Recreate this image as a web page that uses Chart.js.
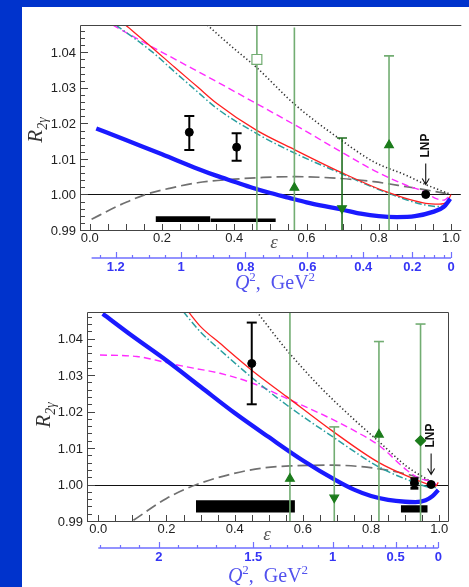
<!DOCTYPE html>
<html>
<head>
<meta charset="utf-8">
<script src="https://cdn.jsdelivr.net/npm/chart.js@4.4.1/dist/chart.umd.min.js"></script>
<style>
  html, body { margin: 0; padding: 0; }
  body { width: 469px; height: 587px; background: #0033cc; position: relative; overflow: hidden; }
  #sheet { position: absolute; left: 22px; top: 7px; width: 447px; height: 580px; background: #fff; }
  #c1 { position: absolute; left: 0; top: 0; }
  #c2 { position: absolute; left: 0; top: 291px; }
</style>
</head>
<body>
<div id="sheet">
  <canvas id="c1" width="447" height="291"></canvas>
  <canvas id="c2" width="447" height="289"></canvas>
</div>
<script>
// ---- tick labels ----
const yTicks = [0.99, 1.00, 1.01, 1.02, 1.03, 1.04];
const epsTicks = [0.0, 0.2, 0.4, 0.6, 0.8, 1.0];

// ---- top panel: curves (epsilon -> R2gamma) ----
const topBlueEps = [0.018, 0.1, 0.2, 0.3, 0.35, 0.4, 0.45, 0.5, 0.55, 0.6, 0.65, 0.7, 0.75, 0.8, 0.85, 0.9, 0.95, 0.98, 0.998];
const topBlueR   = [1.0186, 1.0153, 1.0113, 1.0072, 1.0053, 1.0036, 1.0019, 1.0004, 0.9991, 0.9978, 0.9967, 0.9957, 0.9946, 0.9939, 0.99365, 0.9939, 0.9951, 0.9965, 0.9988];
const topRedEps  = [0.099, 0.172, 0.235, 0.298, 0.352, 0.461, 0.569, 0.696, 0.822, 0.93, 0.967, 0.989, 1.0];
const topRedR    = [1.0477, 1.0414, 1.0358, 1.0303, 1.0256, 1.0181, 1.0125, 1.0062, 1.0007, 0.9975, 0.9973, 0.9979, 1.0];
const topTealEps = [0.072, 0.172, 0.235, 0.298, 0.352, 0.461, 0.569, 0.696, 0.822, 0.93, 0.967, 0.99];
const topTealR   = [1.0477, 1.0402, 1.0345, 1.0289, 1.0242, 1.0172, 1.01155, 1.0059, 1.0005, 0.9970, 0.9966, 0.9972];
const topMagEps  = [0.063, 0.15, 0.25, 0.352, 0.461, 0.569, 0.696, 0.786, 0.876, 0.93, 0.957, 0.98, 0.998];
const topMagR    = [1.0477, 1.0428, 1.0373, 1.0317, 1.0256, 1.0195, 1.0120, 1.0068, 1.0026, 1.0006, 0.9989, 0.9984, 0.9998];
const topDotEps  = [0.325, 0.40, 0.461, 0.569, 0.696, 0.786, 0.876, 0.93, 1.0];
const topDotR    = [1.0477, 1.0410, 1.0358, 1.0252, 1.0153, 1.0092, 1.0054, 1.0028, 1.0];
const topGrayEps = [0.005, 0.072, 0.108, 0.154, 0.22, 0.298, 0.40, 0.48, 0.569, 0.696, 0.786, 0.876, 0.93, 1.0];
const topGrayR   = [0.9930, 0.9965, 0.9981, 1.0000, 1.0017, 1.0033, 1.0043, 1.0048, 1.0050, 1.0045, 1.0036, 1.0022, 1.0013, 1.0];

// ---- top panel: data points ----
const topBlackEps = [0.2755, 0.4065];
const topBlackR   = [1.0175, 1.0133];
const topBlackLo  = [1.0125, 1.0095];
const topBlackHi  = [1.0221, 1.0172];
const topLnpEps = [0.930];
const topLnpR   = [1.000];
const topGreenEps = [0.4626, 0.5664, 0.6983, 0.8284];
const topGreenR   = [1.0380, 1.0019, 0.9961, 1.0139];
const topGreenHi  = [1.0600, 1.0470, 1.0159, 1.0390];   // 1.06 = runs off the top
const topGreenLo  = [0.9800, 0.9800, 0.9800, 0.9800];   // all run off the bottom
const topBandEps = [[0.182, 0.334], [0.334, 0.515]];
const topBandLo  = [0.99228, 0.99228];
const topBandHi  = [0.99389, 0.99324];

// ---- top panel: Q^2 axis (tick label -> epsilon position) ----
const q2TopLabels  = ['1.2', '1', '0.8', '0.6', '0.4', '0.2', '0'];
const q2TopAt      = [0.072, 0.253, 0.431, 0.6025, 0.757, 0.893, 1.0];
const q2TopMinorAt = [0.027, 0.117, 0.163, 0.208, 0.295, 0.340, 0.386, 0.479, 0.523, 0.560, 0.646, 0.682, 0.723, 0.795, 0.831, 0.863, 0.926, 0.953, 0.980];

// ---- bottom panel: curves ----
const botBlueEps = [0.013, 0.1, 0.2, 0.3, 0.4, 0.5, 0.6, 0.7, 0.75, 0.8, 0.85, 0.9, 0.93, 0.96, 0.98, 0.997];
const botBlueR   = [1.0468, 1.0407, 1.0340, 1.0268, 1.0196, 1.0130, 1.0066, 1.0010, 0.9986, 0.99685, 0.9958, 0.99528, 0.9952, 0.9957, 0.9968, 0.9985];
const botRedEps  = [0.264, 0.30, 0.357, 0.4545, 0.5525, 0.689, 0.823, 0.927, 0.97, 0.99, 0.997];
const botRedR    = [1.0474, 1.0433, 1.0387, 1.0310, 1.0241, 1.0145, 1.0060, 1.0015, 1.0000, 0.9996, 1.0006];
const botTealEps = [0.249, 0.30, 0.357, 0.4545, 0.5525, 0.689, 0.823, 0.927, 0.97, 0.99];
const botTealR   = [1.0474, 1.0418, 1.0369, 1.0290, 1.0218, 1.0130, 1.0048, 1.0006, 0.9993, 0.9992];
const botMagEps  = [0.005, 0.113, 0.21, 0.279, 0.357, 0.4545, 0.5525, 0.65, 0.748, 0.826, 0.904, 0.943, 0.982, 0.992];
const botMagR    = [1.0355, 1.0351, 1.0332, 1.0319, 1.0305, 1.0277, 1.0236, 1.0195, 1.0149, 1.0105, 1.0040, 1.0016, 1.0007, 0.9998];
const botDotEps  = [0.4645, 0.5525, 0.65, 0.748, 0.826, 0.904, 0.963, 0.992];
const botDotR    = [1.0474, 1.0369, 1.0268, 1.0180, 1.0115, 1.0050, 1.0015, 1.0000];
const botGrayEps = [0.103, 0.2, 0.2885, 0.396, 0.48, 0.562, 0.689, 0.816, 0.914, 0.992];
const botGrayR   = [0.9902, 0.9962, 1.0000, 1.0030, 1.0045, 1.0051, 1.0053, 1.0044, 1.0026, 1.0003];

// ---- bottom panel: data points ----
const botBlackEps = [0.450, 0.927];
const botBlackR   = [1.0332, 1.0004];
const botBlackLo  = [1.0220, 0.9990];
const botBlackHi  = [1.0444, 1.0016];
const botLnpEps = [0.976];
const botLnpR   = [1.000];
const botGreenEps = [0.562, 0.692, 0.823, 0.945];
const botGreenR   = [1.0016, 0.9964, 1.0137, 1.0120];
const botGreenHi  = [1.0470, 1.0158, 1.0392, 1.0440];
const botGreenLo  = [0.9800, 0.9800, 0.9800, 0.9800];
const botBandEps = [[0.2865, 0.5765], [0.887, 0.966]];
const botBandLo  = [0.99231, 0.99231];
const botBandHi  = [0.99569, 0.99431];

// ---- bottom panel: Q^2 axis ----
const q2BotLabels  = ['2', '1.5', '1', '0.5', '0'];
const q2BotAt      = [0.178, 0.4545, 0.687, 0.872, 0.997];
const q2BotMinorAt = [0.004, 0.063, 0.118, 0.234, 0.290, 0.346, 0.400, 0.503, 0.552, 0.596, 0.645, 0.733, 0.772, 0.806, 0.841, 0.904, 0.934, 0.958, 0.982];

const SANS = '"Liberation Sans", Arial, sans-serif';
const SERIF = '"Liberation Serif", "Times New Roman", serif';
const GREEN_LINE = '#72ad72';
const GREEN_MARK = '#1c7c1c';

function pts(xs, ys) { return xs.map((v, i) => ({ x: v, y: ys[i] })); }

function curve(xs, ys, color, width, dash, order) {
  return {
    data: pts(xs, ys), showLine: true, borderColor: color, borderWidth: width,
    borderDash: dash || [], pointRadius: 0, cubicInterpolationMode: 'monotone',
    fill: false, order: order, clip: 0
  };
}

function errBar(xv, lo, hi, color, width, capLo, capHi, cap, order) {
  return {
    data: [{ x: xv, y: lo }, { x: xv, y: hi }], showLine: true,
    borderColor: color, borderWidth: width, pointStyle: 'line',
    pointRadius: [capLo ? cap : 0, capHi ? cap : 0],
    pointBorderColor: color, pointBorderWidth: width, order: order, clip: 0
  };
}

function bands(ranges, lo, hi) {
  const out = [];
  ranges.forEach((r, i) => {
    out.push({ data: [{ x: r[0], y: hi[i] }, { x: r[1], y: hi[i] }], showLine: true, fill: '+1',
      backgroundColor: '#000', borderColor: 'rgba(0,0,0,0)', borderWidth: 0, pointRadius: 0, order: 9, clip: 0 });
    out.push({ data: [{ x: r[0], y: lo[i] }, { x: r[1], y: lo[i] }], showLine: true, fill: false,
      borderColor: 'rgba(0,0,0,0)', borderWidth: 0, pointRadius: 0, order: 9, clip: 0 });
  });
  return out;
}

// axes, frame, Q^2 scale, titles and the LNP arrow
const paperAxes = {
  id: 'paperAxes',
  beforeDatasetsDraw(chart) {
    const { ctx, chartArea: a, scales: { y } } = chart;
    const py = Math.round(y.getPixelForValue(1.0)) + 0.5;
    ctx.save();
    ctx.strokeStyle = '#111'; ctx.lineWidth = 1;
    ctx.beginPath(); ctx.moveTo(a.left, py); ctx.lineTo(a.right, py); ctx.stroke();
    ctx.restore();
  },
  afterDatasetsDraw(chart, args, o) {
    const { ctx, chartArea: a, scales: { x, y } } = chart;
    ctx.save();
    // frame
    ctx.strokeStyle = '#444'; ctx.lineWidth = 1;
    ctx.beginPath();
    ctx.moveTo(a.right + 0.5, a.top + 0.5);
    ctx.lineTo(a.left + 0.5, a.top + 0.5);
    ctx.lineTo(a.left + 0.5, a.bottom + 0.5);
    ctx.lineTo(a.right + 0.5, a.bottom + 0.5);
    if (o.rightFrame) ctx.lineTo(a.right + 0.5, a.top + 0.5);
    ctx.stroke();
    // inner y ticks
    ctx.beginPath();
    for (let i = 0; i <= 29; i++) {
      const v = 0.99 + i * 0.002;
      if (v > y.max) break;
      const py = Math.round(y.getPixelForValue(v)) + 0.5;
      const len = i % 5 === 0 ? 8 : 5;
      ctx.moveTo(a.left, py); ctx.lineTo(a.left + len, py);
    }
    // inner x ticks
    for (let i = 0; i <= 20; i++) {
      const px = Math.round(x.getPixelForValue(i * 0.05)) + 0.5;
      ctx.moveTo(px, a.bottom); ctx.lineTo(px, a.bottom - 6);
    }
    ctx.stroke();
    // tick labels
    ctx.fillStyle = '#222'; ctx.font = '13px ' + SANS;
    ctx.textAlign = 'right'; ctx.textBaseline = 'middle';
    yTicks.forEach(v => ctx.fillText(v.toFixed(2), a.left - 4, y.getPixelForValue(v) + 1));
    ctx.textAlign = 'center';
    epsTicks.forEach(v => ctx.fillText(v.toFixed(1), x.getPixelForValue(v), a.bottom + 8.5));
    // epsilon title
    ctx.fillStyle = '#555'; ctx.font = 'italic 19px ' + SERIF;
    ctx.fillText('\u03b5', o.epsX, o.epsY);
    // Q^2 axis
    const qc = '#6f6fff';
    ctx.strokeStyle = qc; ctx.lineWidth = 1.6;
    ctx.beginPath();
    ctx.moveTo(x.getPixelForValue(o.q2From), o.q2Y); ctx.lineTo(x.getPixelForValue(o.q2To), o.q2Y);
    ctx.stroke();
    ctx.lineWidth = 1.2;
    ctx.beginPath();
    o.q2At.forEach(v => { const px = Math.round(x.getPixelForValue(v)) + 0.5; ctx.moveTo(px, o.q2Y); ctx.lineTo(px, o.q2Y - 6); });
    o.q2Minor.forEach(v => { const px = Math.round(x.getPixelForValue(v)) + 0.5; ctx.moveTo(px, o.q2Y); ctx.lineTo(px, o.q2Y - 3); });
    ctx.stroke();
    ctx.fillStyle = '#3535f5'; ctx.font = 'bold 13px ' + SANS;
    o.q2At.forEach((v, i) => ctx.fillText(o.q2Labels[i], x.getPixelForValue(v), o.q2Y + 9.5));
    // Q^2, GeV^2 title
    ctx.fillStyle = '#5252ee'; ctx.textAlign = 'left'; ctx.textBaseline = 'alphabetic';
    const parts = [
      ['Q', 'italic 20px ' + SERIF, 0], ['2', '13px ' + SERIF, -8], [',  GeV', '20px ' + SERIF, 0], ['2', '13px ' + SERIF, -8]
    ];
    let w = 0;
    parts.forEach(p => { ctx.font = p[1]; w += ctx.measureText(p[0]).width; });
    let cx = o.qTitleX - w / 2;
    parts.forEach(p => { ctx.font = p[1]; ctx.fillText(p[0], cx, o.qTitleY + p[2]); cx += ctx.measureText(p[0]).width; });
    // R_2gamma title
    ctx.save();
    ctx.translate(o.rX, o.rY); ctx.rotate(-Math.PI / 2);
    ctx.fillStyle = '#333';
    ctx.font = 'italic 21px ' + SERIF; const wR = ctx.measureText('R').width;
    ctx.font = 'italic 14px ' + SERIF; const wS = ctx.measureText('2\u03b3').width;
    ctx.font = 'italic 21px ' + SERIF; ctx.fillText('R', -(wR + wS) / 2, 0);
    ctx.font = 'italic 14px ' + SERIF; ctx.fillText('2\u03b3', -(wR + wS) / 2 + wR, 5);
    ctx.restore();
    // LNP arrow
    const lx = x.getPixelForValue(o.lnp[0]), ly = y.getPixelForValue(o.lnp[1]);
    ctx.strokeStyle = '#111'; ctx.lineWidth = 1.1;
    ctx.beginPath();
    ctx.moveTo(lx, ly - 31); ctx.lineTo(lx, ly - 10);
    ctx.moveTo(lx - 3.5, ly - 16); ctx.lineTo(lx, ly - 10); ctx.lineTo(lx + 3.5, ly - 16);
    ctx.stroke();
    ctx.save();
    ctx.translate(lx, ly - 49); ctx.rotate(-Math.PI / 2);
    ctx.fillStyle = '#111'; ctx.font = 'bold 12px ' + SANS;
    ctx.textAlign = 'center'; ctx.textBaseline = 'middle';
    ctx.fillText('LNP', 0, 0);
    ctx.restore();
    ctx.restore();
  }
};

function panelDatasets(c) {
  const ds = [];
  // markers on top
  ds.push({ data: pts(c.blackEps, c.blackR), pointStyle: 'circle', pointRadius: 4, pointBackgroundColor: '#000', pointBorderColor: '#000', showLine: false, order: 0, clip: 0 });
  ds.push({ data: pts(c.lnpEps, c.lnpR), pointStyle: 'circle', pointRadius: 4, pointBackgroundColor: '#000', pointBorderColor: '#000', showLine: false, order: 0, clip: 0 });
  ds.push({ data: pts(c.greenEps, c.greenR), pointStyle: c.greenStyle, pointRotation: c.greenRot,
    pointRadius: c.greenSize, pointBackgroundColor: c.greenFill, pointBorderColor: c.greenBorder,
    pointBorderWidth: 1.2, showLine: false, order: 0, clip: 0 });
  // error bars
  c.blackEps.forEach((e, i) => ds.push(errBar(e, c.blackLo[i], c.blackHi[i], '#000', c.blackW[i], true, true, c.blackCap[i], 1)));
  c.greenEps.forEach((e, i) => ds.push(errBar(e, c.greenLo[i], c.greenHi[i], c.greenLine[i], 1.6, false, c.greenHi[i] < 1.047, 5, 2)));
  // theory curves
  ds.push(curve(c.blue[0], c.blue[1], '#1a1aff', 4.3, null, 3));
  ds.push(curve(c.red[0], c.red[1], '#ff2020', 1.3, null, 4));
  ds.push(curve(c.teal[0], c.teal[1], '#2a9fa0', 1.5, [7, 2.5, 1.5, 2.5], 5));
  ds.push(curve(c.mag[0], c.mag[1], '#ff2cff', 1.4, [7, 4], 6));
  ds.push(curve(c.dot[0], c.dot[1], '#333', 1.6, [1.3, 2.4], 7));
  ds.push(curve(c.gray[0], c.gray[1], '#707070', 1.7, [11, 5], 8));
  return ds.concat(bands(c.bandEps, c.bandLo, c.bandHi));
}

function makeChart(id, c, xr, yr, pad, axes) {
  new Chart(document.getElementById(id), {
    type: 'scatter',
    data: { datasets: panelDatasets(c) },
    options: {
      responsive: false, animation: false, events: [],
      layout: { padding: pad },
      scales: {
        x: { type: 'linear', min: xr[0], max: xr[1], display: false },
        y: { type: 'linear', min: yr[0], max: yr[1], display: false }
      },
      plugins: { legend: { display: false }, tooltip: { enabled: false }, paperAxes: axes }
    },
    plugins: [paperAxes]
  });
}

makeChart('c1', {
  blackEps: topBlackEps, blackR: topBlackR, blackLo: topBlackLo, blackHi: topBlackHi,
  blackW: [2, 2], blackCap: [5, 5],
  lnpEps: topLnpEps, lnpR: topLnpR,
  greenEps: topGreenEps, greenR: topGreenR, greenLo: topGreenLo, greenHi: topGreenHi,
  greenStyle: ['rect', 'triangle', 'triangle', 'triangle'], greenRot: [0, 0, 180, 0],
  greenSize: [7, 5, 5, 5], greenFill: ['#fff', GREEN_MARK, GREEN_MARK, GREEN_MARK],
  greenBorder: [GREEN_LINE, GREEN_MARK, GREEN_MARK, GREEN_MARK],
  greenLine: [GREEN_LINE, GREEN_LINE, '#1f6e1f', GREEN_LINE],
  blue: [topBlueEps, topBlueR], red: [topRedEps, topRedR], teal: [topTealEps, topTealR],
  mag: [topMagEps, topMagR], dot: [topDotEps, topDotR], gray: [topGrayEps, topGrayR],
  bandEps: topBandEps, bandLo: topBandLo, bandHi: topBandHi
}, [-0.0271, 1.0271], [0.99, 1.0477], { left: 58, top: 18, right: 0, bottom: 68 }, {
  rightFrame: false, epsX: 252, epsY: 236,
  q2From: 0.005, q2To: 1.0, q2Y: 251, q2At: q2TopAt, q2Minor: q2TopMinorAt, q2Labels: q2TopLabels,
  qTitleX: 253, qTitleY: 282, rX: 20, rY: 123, lnp: [topLnpEps[0], topLnpR[0]]
});

makeChart('c2', {
  blackEps: botBlackEps, blackR: botBlackR, blackLo: botBlackLo, blackHi: botBlackHi,
  blackW: [2, 3], blackCap: [5, 4],
  lnpEps: botLnpEps, lnpR: botLnpR,
  greenEps: botGreenEps, greenR: botGreenR, greenLo: botGreenLo, greenHi: botGreenHi,
  greenStyle: ['triangle', 'triangle', 'triangle', 'rectRot'], greenRot: [0, 180, 0, 0],
  greenSize: [5, 5, 5, 5], greenFill: [GREEN_MARK, GREEN_MARK, GREEN_MARK, GREEN_MARK],
  greenBorder: [GREEN_MARK, GREEN_MARK, GREEN_MARK, GREEN_MARK],
  greenLine: [GREEN_LINE, GREEN_LINE, GREEN_LINE, GREEN_LINE],
  blue: [botBlueEps, botBlueR], red: [botRedEps, botRedR], teal: [botTealEps, botTealR],
  mag: [botMagEps, botMagR], dot: [botDotEps, botDotR], gray: [botGrayEps, botGrayR],
  bandEps: botBandEps, bandLo: botBandLo, bandHi: botBandHi
}, [-0.0331, 1.0255], [0.99, 1.0473], { left: 65, top: 14, right: 21, bottom: 66 }, {
  rightFrame: true, epsX: 245, epsY: 237,
  q2From: 0.0, q2To: 0.997, q2Y: 250, q2At: q2BotAt, q2Minor: q2BotMinorAt, q2Labels: q2BotLabels,
  qTitleX: 246, qTitleY: 284, rX: 28, rY: 117, lnp: [botLnpEps[0], botLnpR[0]]
});
</script>
</body>
</html>
